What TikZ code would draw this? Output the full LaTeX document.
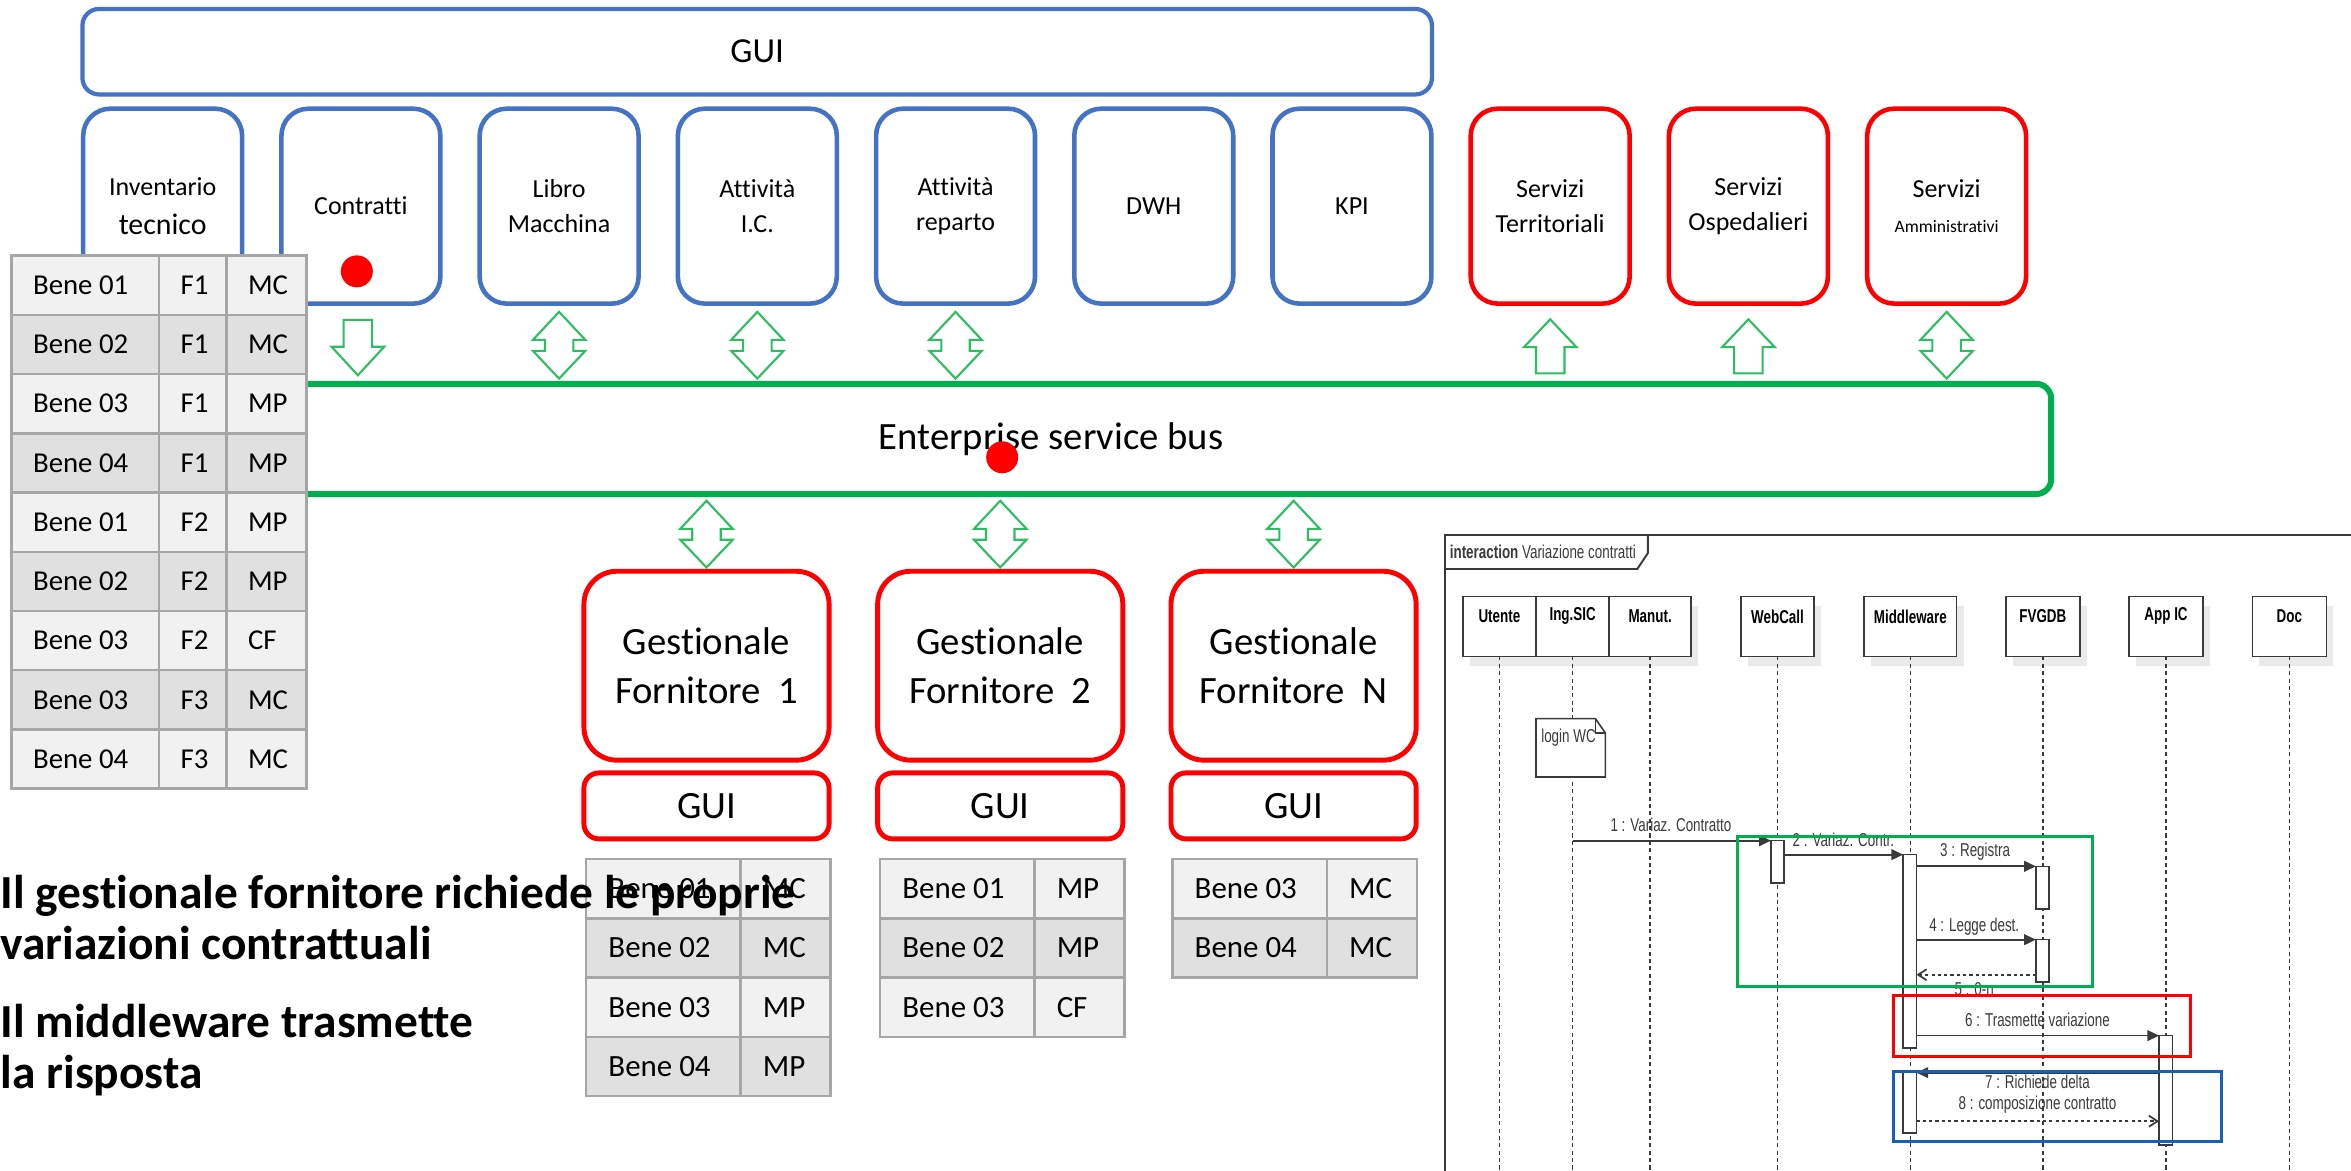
\documentclass[tikz,border=0pt]{standalone}
\usepackage{fontspec}
\setmainfont[Ligatures={NoCommon,NoRare,NoContextual},Contextuals=NoAlternate]{Carlito}
\newfontfamily\seqf[FakeStretch=0.72]{Liberation Sans}
\usetikzlibrary{arrows.meta,calc,shadows}
\definecolor{offblue}{HTML}{4472C4}
\definecolor{esbgreen}{HTML}{00B050}
\definecolor{arrgreen}{HTML}{2EBE62}
\definecolor{cellA}{HTML}{F1F1F1}
\definecolor{cellB}{HTML}{E0E0E0}
\definecolor{cellline}{HTML}{A6A6A6}
\definecolor{seqgray}{HTML}{3A3A3A}
\definecolor{shadowg}{HTML}{EAEAEA}
\definecolor{seqblue}{HTML}{1560BD}
\tikzset{
  blockarr/.style={draw=arrgreen, line width=0.6pt, fill=white, line join=miter},
  pics/dblarr/.style={code={\draw[blockarr] (0,0) -- (17.5,18.7) -- (9.5,18.7) -- (9.5,26) -- (17.5,26) -- (0,44.5) -- (-17.5,26) -- (-9.5,26) -- (-9.5,18.7) -- (-17.5,18.7) -- cycle;}},
  pics/uparr/.style={code={\draw[blockarr] (0,0) -- (17.5,18.5) -- (9.5,18.5) -- (9.5,36) -- (-9.5,36) -- (-9.5,18.5) -- (-17.5,18.5) -- cycle;}},
  pics/downarr/.style={code={\draw[blockarr] (-9.5,0) -- (9.5,0) -- (9.5,18) -- (17.5,18) -- (0,37) -- (-17.5,18) -- (-9.5,18) -- cycle;}},
  modbox/.style={draw=offblue, line width=1.3pt, rounded corners=0.27cm, minimum width=1.59cm, minimum height=1.95cm, align=center, fill=white, inner sep=1pt, outer sep=0pt, font=\fontsize{7.4}{10}\selectfont},
  modred/.style={modbox, draw=red},
  gest/.style={draw=red, line width=1.4pt, rounded corners=0.33cm, minimum width=2.4525cm, minimum height=1.89cm, align=center, fill=white, outer sep=0pt, font=\fontsize{11}{13.7}\selectfont},
  guired/.style={draw=red, line width=1.4pt, rounded corners=0.15cm, minimum width=2.4525cm, minimum height=0.66cm, fill=white, outer sep=0pt, font=\fontsize{11}{13}\selectfont},
  dot/.style={circle, fill=red, minimum size=0.32cm, inner sep=0pt},
  cell/.style={draw=cellline, line width=0.7pt, minimum height=0.5925cm, anchor=north west, inner sep=0pt, outer sep=0pt},
  ctxt/.style={anchor=west, inner sep=0pt, font=\fontsize{8.2}{10}\selectfont},
  ctxtb/.style={anchor=west, inner sep=0pt, font=\fontsize{8.8}{10}\selectfont},
  boldtxt/.style={anchor=base west, inner sep=0pt, font=\bfseries\fontsize{13.5}{16}\selectfont},
  seqline/.style={draw=seqgray, line width=0.45pt},
  head/.style={seqline, fill=white, minimum height=0.6cm, inner sep=0pt, outer sep=0pt, drop shadow={shadow xshift=0.07cm, shadow yshift=-0.1cm, fill=shadowg, opacity=1}},
  headlbl/.style={font=\seqf\bfseries\fontsize{5.3}{6.3}\selectfont, inner sep=0pt, text=black},
  lifeline/.style={draw=seqgray, line width=0.45pt, dash pattern=on 1.15pt off 0.95pt},
  act/.style={seqline, fill=white, minimum width=0.1335cm, inner sep=0pt, outer sep=0pt},
  msg/.style={draw=seqgray, line width=0.5pt, -{Triangle[length=0.117cm,width=0.107cm]}},
  ret/.style={draw=seqgray, line width=0.5pt, dash pattern=on 0.9pt off 0.9pt, -{Straight Barb[length=0.085cm,width=0.11cm]}},
  mlbl/.style={font=\seqf\fontsize{5.3}{6.3}\selectfont, inner sep=0pt, text=seqgray}
}
\begin{document}
\begin{tikzpicture}[x=0.015cm,y=-0.015cm]
\useasboundingbox (0,0) rectangle (1568,781);

% top GUI and modules
\node[draw=offblue, line width=1.2pt, rounded corners=0.165cm, minimum width=13.5cm, minimum height=0.855cm, outer sep=0pt, font=\fontsize{10}{12}\selectfont] (gui) at (505,34.5) {GUI};
\node[modbox, font=\fontsize{7.4}{10.9}\selectfont] (inv) at (108.5,137.5) {Inventario\\{\fontsize{8.5}{10.9}\selectfont tecnico}};
\node[modbox] (contr) at (240.7,137.5) {Contratti};
\node[modbox] (libro) at (372.9,137.5) {Libro\\Macchina};
\node[modbox] (attic) at (505.1,137.5) {Attività\\I.C.};
\node[modbox] (attrep) at (637.3,137.5) {Attività\\reparto};
\node[modbox] (dwh) at (769.5,137.5) {DWH};
\node[modbox] (kpi) at (901.7,137.5) {KPI};
\node[modred] (sterr) at (1033.9,137.5) {Servizi\\Territoriali};
\node[modred] (sosp) at (1166.1,137.5) {Servizi\\Ospedalieri};
\node[modred, font=\fontsize{7.4}{7.6}\selectfont] (samm) at (1298.3,137.5) {Servizi\\[2.2pt]{\fontsize{5}{6}\selectfont Amministrativi}};

% ESB
\node[draw=esbgreen, line width=1.7pt, rounded corners=0.15cm, minimum width=20.01cm, minimum height=1.1025cm, fill=white, outer sep=0pt, font=\fontsize{11}{13}\selectfont] (esb) at (701,292.75) {Enterprise service bus};

% block arrows
\pic at ($(contr.south)+(-2,10.8)$) {downarr};
\pic at ($(libro.south)+(0,5.5)$) {dblarr};
\pic at ($(attic.south)+(0,5.5)$) {dblarr};
\pic at ($(attrep.south)+(0,5.5)$) {dblarr};
\pic at ($(sterr.south)+(0,10.5)$) {uparr};
\pic at ($(sosp.south)+(0,10.5)$) {uparr};
\pic at ($(samm.south)+(0,5.5)$) {dblarr};

% red dots
\node[dot] (dotc) at (238,181) {};
\node[dot] (dote) at (668.4,305) {};

% left table
\foreach \a/\b/\c [count=\i from 0] in {Bene 01/F1/MC,Bene 02/F1/MC,Bene 03/F1/MP,Bene 04/F1/MP,Bene 01/F2/MP,Bene 02/F2/MP,Bene 03/F2/CF,Bene 03/F3/MC,Bene 04/F3/MC}{
  \pgfmathsetmacro\yy{170.5+39.5*\i}
  \ifodd\i \def\cf{cellB}\else\def\cf{cellA}\fi
  \node[cell, fill=\cf, minimum width=1.473cm] (L\i-1) at (7.8,\yy) {};
  \node[cell, fill=\cf, minimum width=0.675cm] (L\i-2) at (106,\yy) {};
  \node[cell, fill=\cf, minimum width=0.8025cm] (L\i-3) at (151,\yy) {};
  \node[ctxt] at ([xshift=0.207cm]L\i-1.west) {\a};
  \node[ctxt] at ([xshift=0.21cm]L\i-2.west) {\b};
  \node[ctxt] at ([xshift=0.21cm]L\i-3.west) {\c};
}

% gestionali
\node[gest] (gf1) at (471.2,444) {Gestionale\\Fornitore\ \ 1};
\node[gest] (gf2) at (667.1,444) {Gestionale\\Fornitore\ \ 2};
\node[gest] (gfn) at (862.75,444) {Gestionale\\Fornitore\ \ N};
\node[guired] (gui1) at (471.2,537.5) {GUI};
\node[guired] (gui2) at (667.1,537.5) {GUI};
\node[guired] (guin) at (862.75,537.5) {GUI};

\pic at ($(esb.south -| gf1.north)+(0,4.5)$) {dblarr};
\pic at ($(esb.south -| gf2.north)+(0,4.5)$) {dblarr};
\pic at ($(esb.south -| gfn.north)+(0,4.5)$) {dblarr};

% small tables
\foreach \a/\b [count=\i from 0] in {Bene 01/MC,Bene 02/MC,Bene 03/MP,Bene 04/MP}{
  \pgfmathsetmacro\yy{573+39.5*\i}
  \ifodd\i \def\cf{cellB}\else\def\cf{cellA}\fi
  \node[cell, fill=\cf, minimum width=1.545cm] (A\i-1) at (391,\yy) {};
  \node[cell, fill=\cf, minimum width=0.9cm] (A\i-2) at (494,\yy) {};
  \node[ctxtb] at ([xshift=0.215cm]A\i-1.west) {\a};
  \node[ctxtb] at ([xshift=0.215cm]A\i-2.west) {\b};
}
\foreach \a/\b [count=\i from 0] in {Bene 01/MP,Bene 02/MP,Bene 03/CF}{
  \pgfmathsetmacro\yy{573+39.5*\i}
  \ifodd\i \def\cf{cellB}\else\def\cf{cellA}\fi
  \node[cell, fill=\cf, minimum width=1.545cm] (B\i-1) at (587,\yy) {};
  \node[cell, fill=\cf, minimum width=0.9cm] (B\i-2) at (690,\yy) {};
  \node[ctxtb] at ([xshift=0.215cm]B\i-1.west) {\a};
  \node[ctxtb] at ([xshift=0.215cm]B\i-2.west) {\b};
}
\foreach \a/\b [count=\i from 0] in {Bene 03/MC,Bene 04/MC}{
  \pgfmathsetmacro\yy{573+39.5*\i}
  \ifodd\i \def\cf{cellB}\else\def\cf{cellA}\fi
  \node[cell, fill=\cf, minimum width=1.545cm] (C\i-1) at (782,\yy) {};
  \node[cell, fill=\cf, minimum width=0.9cm] (C\i-2) at (885,\yy) {};
  \node[ctxtb] at ([xshift=0.215cm]C\i-1.west) {\a};
  \node[ctxtb] at ([xshift=0.215cm]C\i-2.west) {\b};
}

% bold captions
\node[boldtxt] (t1) at (0,606) {Il gestionale fornitore richiede le proprie};
\node[boldtxt] (t2) at (0,640) {variazioni contrattuali};
\node[boldtxt] (t3) at (0,692) {Il middleware trasmette};
\node[boldtxt] (t4) at (0,726) {la risposta};

% ===== sequence diagram =====
\coordinate (bot) at (0,781);
\draw[seqline, line width=0.55pt] (964,781) -- (964,357) -- (1568,357);
\draw[seqline, line width=0.55pt] (964,379.5) -- (1092,379.5) -- (1099,369) -- (1099,357);
\node[anchor=west, inner sep=0pt, font=\seqf\fontsize{5.3}{6.3}\selectfont, text=seqgray] (frlbl) at (966.5,368) {\textbf{interaction} Variazione contratti};

\node[head, minimum width=0.732cm] (utente) at (1000,417.8) {};
\node[head, minimum width=0.7335cm] (ingsic) at (1048.85,417.8) {};
\node[head, minimum width=0.8175cm] (manut) at (1100.55,417.8) {};
\node[head, minimum width=0.735cm] (webcall) at (1185.5,417.8) {};
\node[head, minimum width=0.924cm] (mw) at (1274.1,417.8) {};
\node[head, minimum width=0.7395cm] (fvgdb) at (1362.45,417.8) {};
\node[head, minimum width=0.7395cm] (appic) at (1444.65,417.8) {};
\node[head, minimum width=0.741cm] (doc) at (1526.9,417.8) {};
\foreach \n/\t in {utente/Utente,ingsic/Ing.SIC,manut/Manut.,webcall/WebCall,mw/Middleware,fvgdb/FVGDB,appic/App IC,doc/Doc}{
  \node[headlbl] at ([yshift=-0.2cm]\n.north) {\t};
  \draw[lifeline] (\n.south) -- (\n.south |- bot);
}

% note
\node[minimum width=0.6945cm, minimum height=0.5835cm, inner sep=0pt, outer sep=0pt] (note) at (1047.55,498.75) {};
\filldraw[seqline, fill=white] (note.south west) -- (note.north west) -- ([xshift=-0.1cm]note.north east) -- ([yshift=-0.144cm]note.north east) -- (note.south east) -- cycle;
\draw[seqline] ([xshift=-0.1cm]note.north east) -- ([xshift=-0.1cm,yshift=-0.144cm]note.north east) -- ([yshift=-0.144cm]note.north east);
\node[mlbl, anchor=west] (notelbl) at (1027.5,492) {login WC};

% activations
\node[act, minimum height=0.423cm] (actwc) at (1185.55,574.8) {};
\node[act, minimum height=1.9335cm] (actmw1) at (1273.75,634.45) {};
\node[act, minimum height=0.426cm] (actdb1) at (1362.25,592) {};
\node[act, minimum height=0.426cm] (actdb2) at (1362.25,640.9) {};
\node[act, minimum height=1.0965cm] (actapp) at (1444.45,727.25) {};
\node[act, minimum height=0.618cm] (actmw2) at (1273.75,735) {};

% messages
\draw[msg] (ingsic.south |- actwc.north) -- (actwc.north west);
\draw[msg] (actwc.east |- actmw1.north) -- (actmw1.north west);
\draw[msg] (actmw1.east |- actdb1.north) -- (actdb1.north west);
\draw[msg] (actmw1.east |- actdb2.north) -- (actdb2.north west);
\coordinate (r5) at ($(actdb2.south west)+(0,-5)$);
\draw[ret] (r5) -- (actmw1.east |- r5);
\draw[msg] (actmw1.east |- actapp.north) -- (actapp.north west);
\coordinate (m7) at ($(actmw2.north east)+(0,1)$);
\draw[msg] (actapp.west |- m7) -- (m7);
\coordinate (m8) at ($(actmw2.south east)+(0,-7.8)$);
\draw[ret] (m8) -- (actapp.west |- m8);

\node[mlbl] (l1) at (1114.4,550) {1 : Variaz. Contratto};
\node[mlbl] (l2) at (1229.4,560) {2 : Variaz. Contr.};
\node[mlbl] (l3) at (1317.3,567.8) {3 : Registra};
\node[mlbl] (l4) at (1316.7,617.8) {4 : Legge dest.};
\node[mlbl] (l5) at (1316.7,660) {5 : 0-n};
\node[mlbl] (l6) at (1358.9,680) {6 : Trasmette variazione};
\node[mlbl] (l7) at (1358.9,721.8) {7 : Richiede delta};
\node[mlbl] (l8) at (1358.9,737.1) {8 : composizione contratto};

% highlight frames
\draw[draw=esbgreen, line width=0.85pt] (1158.9,557.8) rectangle (1395.6,658.2);
\draw[draw=red, line width=0.85pt] (1262.7,664) rectangle (1461.1,704.9);
\draw[draw=seqblue, line width=0.85pt] (1262.7,714.9) rectangle (1481.6,761.6);
\end{tikzpicture}
\end{document}
